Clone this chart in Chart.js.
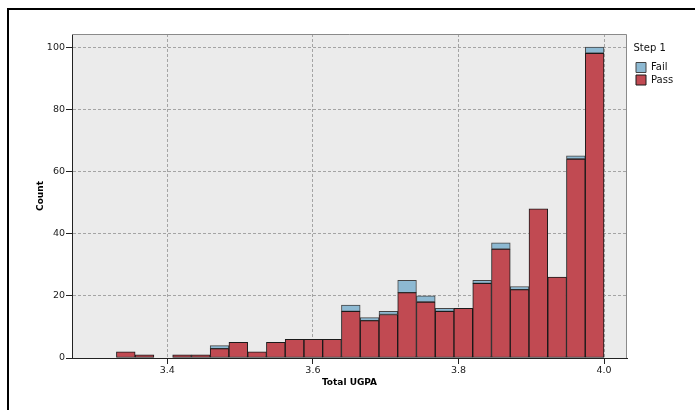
<!DOCTYPE html>
<html>
<head>
<meta charset="utf-8">
<script src="https://cdn.jsdelivr.net/npm/chart.js@4"></script>
<style>
  html, body { margin: 0; padding: 0; background: #fff; }
  #wrap { width: 695px; height: 410px; }
</style>
</head>
<body>
<div id="wrap"><canvas id="myChart" width="695" height="410"></canvas></div>
<script>
// histogram bins (centre of each bin, Total UGPA)
const binCenters = [3.3429, 3.3687, 3.3944, 3.4202, 3.4460, 3.4717, 3.4975, 3.5233, 3.5490,
  3.5748, 3.6006, 3.6263, 3.6521, 3.6779, 3.7037, 3.7294, 3.7552, 3.7810, 3.8067,
  3.8325, 3.8583, 3.8840, 3.9098, 3.9356, 3.9613, 3.9871];
const passCounts = [2, 1, 0, 1, 1, 3, 5, 2, 5, 6, 6, 6, 15, 12, 14, 21, 18, 15, 16, 24, 35, 22, 48, 26, 64, 98];
const failCounts = [0, 0, 0, 0, 0, 1, 0, 0, 0, 0, 0, 0, 2, 1, 1, 4, 2, 1, 0, 1, 2, 1, 0, 0, 1, 2];

const xTicks = [3.4, 3.6, 3.8, 4.0];
const xTickLabels = ['3.4', '3.6', '3.8', '4.0'];
const yTicks = [0, 20, 40, 60, 80, 100];

const font = 'DejaVu Sans';

// fondo del area, marco exterior, ancho fijo de la leyenda
const framePlugin = {
  id: 'frame',
  beforeInit(chart) {
    const fit = chart.legend.fit;
    chart.legend.fit = function () {
      fit.call(this);
      this.width = 68;
    };
  },
  afterLayout(chart) {
    chart.legend.left += 6.5;
    chart.legend.right += 6.5;
  },
  beforeDraw(chart) {
    const ctx = chart.ctx;
    const a = chart.chartArea;
    ctx.save();
    ctx.fillStyle = '#fff';
    ctx.fillRect(0, 0, chart.width, chart.height);
    ctx.fillStyle = '#ebebeb';
    ctx.fillRect(a.left, a.top, a.right - a.left, a.bottom - a.top);
    ctx.restore();
  },
  afterDraw(chart) {
    const ctx = chart.ctx;
    const a = chart.chartArea;
    ctx.save();
    ctx.strokeStyle = '#8a8a8a';
    ctx.lineWidth = 1;
    ctx.beginPath();
    ctx.moveTo(a.left, a.top + 0.5);
    ctx.lineTo(a.right - 0.5, a.top + 0.5);
    ctx.lineTo(a.right - 0.5, a.bottom);
    ctx.stroke();
    ctx.strokeStyle = '#000';
    ctx.lineWidth = 2;
    ctx.beginPath();
    ctx.moveTo(8, 410);
    ctx.lineTo(8, 9);
    ctx.lineTo(695, 9);
    ctx.stroke();
    ctx.restore();
  }
};

const ctx = document.getElementById('myChart');
new Chart(ctx, {
  type: 'bar',
  data: {
    datasets: [{
      label: 'Pass',
      data: binCenters.map((c, i) => ({ x: c, y: passCounts[i] })),
      backgroundColor: '#c14a52',
      borderColor: '#1a1a1a',
      borderWidth: 1,
      borderSkipped: false,
      barPercentage: 1,
      categoryPercentage: 1,
      stack: 's'
    }, {
      label: 'Fail',
      data: binCenters.map((c, i) => ({ x: c, y: failCounts[i] })),
      backgroundColor: '#8db9d2',
      borderColor: '#444',
      borderWidth: 1,
      borderSkipped: false,
      barPercentage: 1,
      categoryPercentage: 1,
      stack: 's'
    }]
  },
  options: {
    responsive: false,
    animation: false,
    layout: { padding: { top: 34, left: 0, right: 0, bottom: 0 } },
    plugins: {
      tooltip: { enabled: false },
      legend: {
        position: 'right',
        align: 'start',
        reverse: true,
        title: {
          display: true,
          text: 'Step 1',
          position: 'start',
          color: '#111',
          font: { family: font, size: 10 },
          padding: { top: 9, bottom: 5 }
        },
        labels: {
          color: '#111',
          font: { family: font, size: 10 },
          boxWidth: 10,
          boxHeight: 10,
          padding: 2.5
        }
      }
    },
    scales: {
      x: {
        type: 'linear',
        stacked: true,
        offset: false,
        min: 3.269,
        max: 4.0316,
        afterBuildTicks: (scale) => { scale.ticks = xTicks.map(v => ({ value: v })); },
        afterFit: (scale) => { scale.height = 52; },
        ticks: {
          color: '#1a1a1a',
          font: { family: font, size: 9.5 },
          padding: 1,
          maxRotation: 0,
          callback: (v) => xTickLabels[xTicks.indexOf(v)]
        },
        grid: {
          offset: false,
          color: '#a4a4a4',
          tickColor: '#222',
          tickLength: 6
        },
        border: { color: '#222', width: 1, dash: [3, 2] },
        title: {
          display: true,
          text: 'Total UGPA',
          color: '#000',
          font: { family: font, size: 9, weight: 'bold' },
          padding: { top: 4, bottom: 22 }
        }
      },
      y: {
        stacked: true,
        min: 0,
        max: 104.2,
        afterBuildTicks: (scale) => { scale.ticks = yTicks.map(v => ({ value: v })); },
        afterFit: (scale) => { scale.width = 72; },
        ticks: {
          color: '#1a1a1a',
          font: { family: font, size: 9.5 },
          padding: 1
        },
        grid: {
          color: '#a4a4a4',
          tickColor: '#222',
          tickLength: 6
        },
        border: { color: '#222', width: 1, dash: [3, 2] },
        title: {
          display: true,
          text: 'Count',
          color: '#000',
          font: { family: font, size: 9, weight: 'bold' },
          padding: { top: 35, bottom: 0 }
        }
      }
    }
  },
  plugins: [framePlugin]
});
</script>
</body>
</html>
